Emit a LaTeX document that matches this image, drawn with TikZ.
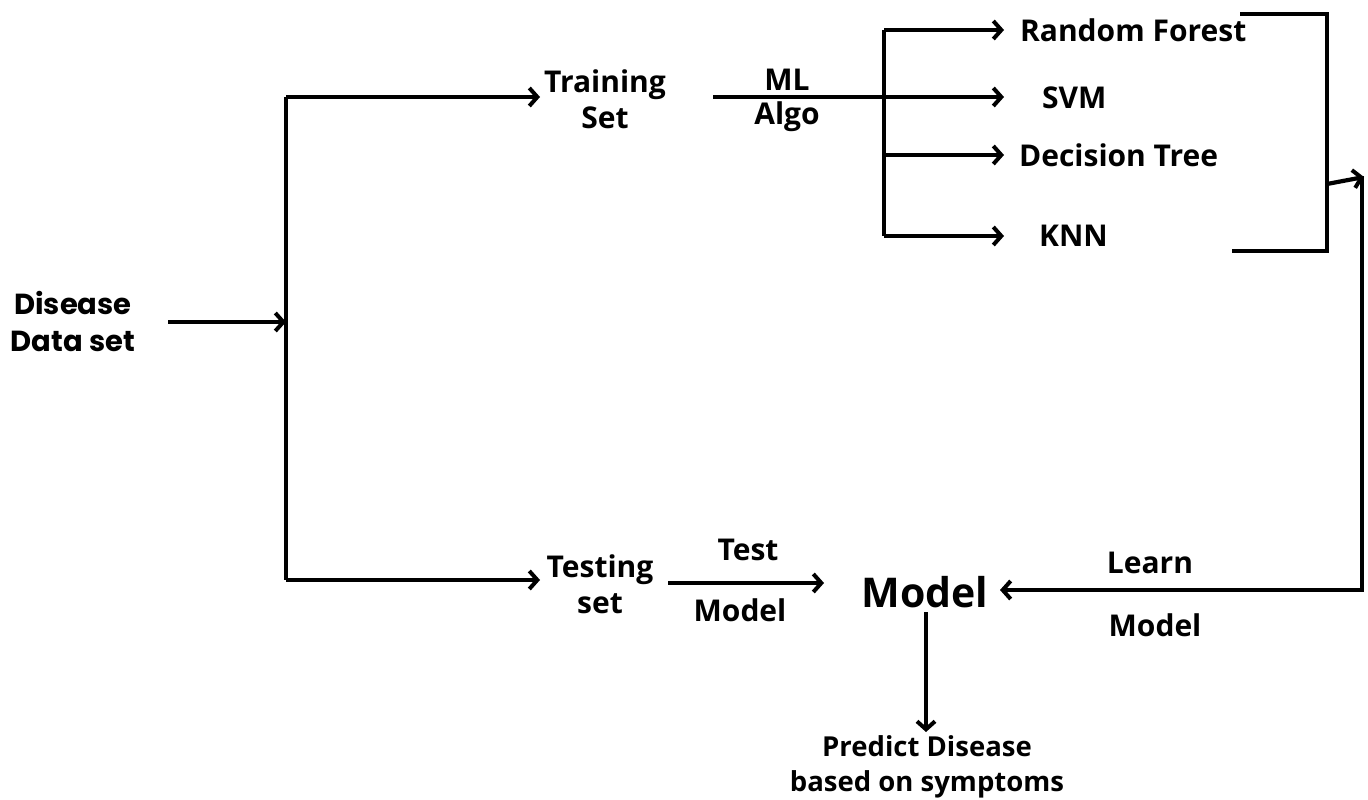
\documentclass[tikz,border=0pt]{standalone}
\usepackage{fontspec}
\setmainfont{Open Sans}
\newfontfamily\popfont{Poppins}
\usetikzlibrary{arrows.meta}
\begin{document}
\begin{tikzpicture}[x=1pt,y=-1pt,
  line width=4.2pt,
  arr/.style={-{Straight Barb[length=8pt,width=18pt,line width=4pt]}},
  lbl/.style={font=\fontsize{30}{36}\selectfont\bfseries, align=center, inner sep=0pt},
  big/.style={font=\fontsize{41}{46}\selectfont\bfseries, inner sep=0pt}]
\useasboundingbox[fill=white] (0,0) rectangle (1368,800);

% text nodes
\node[lbl, font=\popfont\fontsize{29}{37}\selectfont\bfseries] (data) at (73,321) {Disease\\Data set};
\node[lbl] (train) at (605,99) {Training\\Set};
\node[lbl] (test) at (600,584) {Testing\\set};
\node[lbl] (ml) at (787,80) {ML};
\node[lbl] (algo) at (787,117) {Algo};
\node[lbl, anchor=west] (rf) at (1018,30) {Random Forest};
\node[lbl, anchor=west] (svm) at (1040,98) {SVM};
\node[lbl, anchor=west] (dt) at (1017,155) {Decision Tree};
\node[lbl, anchor=west] (knn) at (1037,236) {KNN};
\node[big] (model) at (925,592) {Model};
\node[lbl] (testl) at (748,550) {Test};
\node[lbl] (modl) at (740,610) {Model};
\node[lbl] (learn) at (1150,563) {Learn};
\node[lbl] (lmod) at (1155,625) {Model};
\node[lbl, font=\fontsize{27.5}{35}\selectfont\bfseries] (pred) at (927,767) {Predict Disease\\based on symptoms};

% coordinates
\coordinate (ds) at (168,322);
\coordinate (j0) at (286,322);
\coordinate (jt) at (286,97);
\coordinate (jb) at (286,580);
\coordinate (tr) at (540,97);
\coordinate (te) at (540,580);
\coordinate (ms) at (713,97);
\coordinate (bt) at (884,30);
\coordinate (bb) at (884,236);
\coordinate (bd) at (884,155);
\coordinate (brt) at (1240,14);
\coordinate (brb) at (1232,251);
\coordinate (brm) at (1327,184);
\coordinate (rv) at (1364,177);
\coordinate (rvb) at (1362,590);
\coordinate (tms) at (668,583);
\coordinate (tme) at (824,583);
\coordinate (mtop) at (926,612);
\coordinate (mbot) at (926,732);

% connectors
\draw[arr] (ds) -- (j0);
\draw (jt) -- (jb);
\draw[arr] (jt) -- (tr);
\draw[arr] (jb) -- (te);
\draw[arr] (ms) -- (1004,97);
\draw (bt) -- (bb);
\draw[arr] (bt) -- (1004,30);
\draw[arr] (bd) -- (1004,155);
\draw[arr] (bb) -- (1004,236);
\draw (brt) -- (1327,14) -- (1327,251) -- (brb);
\draw[arr] (brm) -- (rv);
\draw[arr] (1362,176) -- (rvb) -- (1000,590);
\draw[arr] (tms) -- (tme);
\draw[arr] (mtop) -- (mbot);
\end{tikzpicture}
\end{document}
